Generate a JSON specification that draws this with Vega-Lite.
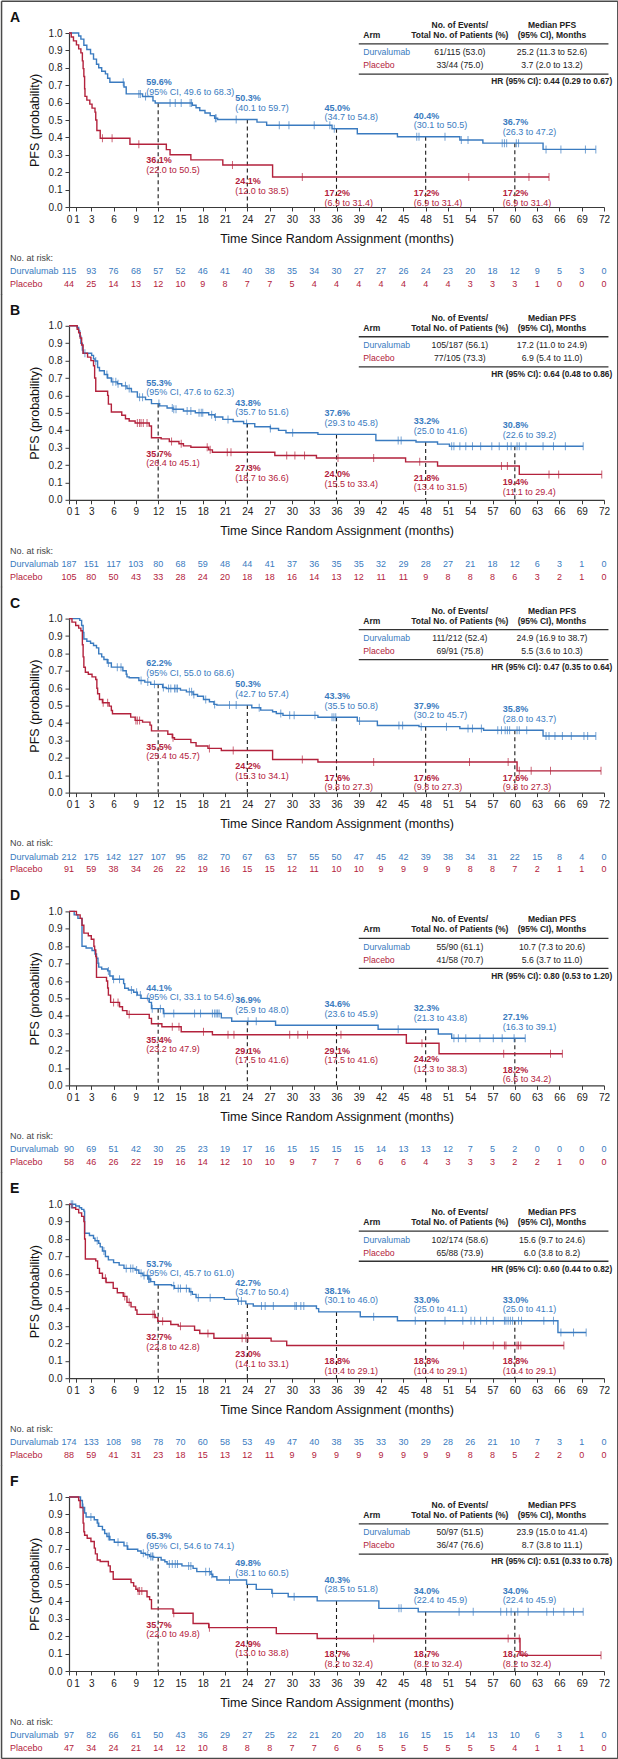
{
"$schema":"https://vega.github.io/schema/vega-lite/v6.json",
"background":"white",
"padding":{"left":0,"top":0,"right":0,"bottom":0},
"config":{
 "font":"Liberation Sans",
 "view":{"stroke":null},
 "axis":{"grid":false,"domainColor":"#3a3a3a","tickColor":"#3a3a3a","labelColor":"#222","titleColor":"#111","titleFontWeight":"normal","labelFontSize":10,"titleFontSize":12.5,"tickSize":4,"domainWidth":1.2,"labelFont":"Liberation Sans","titleFont":"Liberation Sans"},
 "axisX":{"labelFlush":false,"labelOverlap":false,"labelBound":false,"labelPadding":3,"titlePadding":8},
 "axisY":{"labelOverlap":false,"labelPadding":3,"titlePadding":7},
 "text":{"font":"Liberation Sans","fontSize":9,"baseline":"middle"}
},
"data":{"values":[
{"p":"A","k":"t","ev":["61/115 (53.0)","33/44 (75.0)"],"md":["25.2 (11.3 to 52.6)","3.7 (2.0 to 13.2)"],"hr":"HR (95% CI): 0.44 (0.29 to 0.67)"},
{"p":"B","k":"t","ev":["105/187 (56.1)","77/105 (73.3)"],"md":["17.2 (11.0 to 24.9)","6.9 (5.4 to 11.0)"],"hr":"HR (95% CI): 0.64 (0.48 to 0.86)"},
{"p":"C","k":"t","ev":["111/212 (52.4)","69/91 (75.8)"],"md":["24.9 (16.9 to 38.7)","5.5 (3.6 to 10.3)"],"hr":"HR (95% CI): 0.47 (0.35 to 0.64)"},
{"p":"D","k":"t","ev":["55/90 (61.1)","41/58 (70.7)"],"md":["10.7 (7.3 to 20.6)","5.6 (3.7 to 11.0)"],"hr":"HR (95% CI): 0.80 (0.53 to 1.20)"},
{"p":"E","k":"t","ev":["102/174 (58.6)","65/88 (73.9)"],"md":["15.6 (9.7 to 24.6)","6.0 (3.8 to 8.2)"],"hr":"HR (95% CI): 0.60 (0.44 to 0.82)"},
{"p":"F","k":"t","ev":["50/97 (51.5)","36/47 (76.6)"],"md":["23.9 (15.0 to 41.4)","8.7 (3.8 to 11.1)"],"hr":"HR (95% CI): 0.51 (0.33 to 0.78)"},

{"p":"A","k":"l","a":"D","t":12,"s":0.596,"v":"59.6%","c":"(95% CI, 49.6 to 68.3)"},
{"p":"A","k":"l","a":"D","t":24,"s":0.503,"v":"50.3%","c":"(40.1 to 59.7)"},
{"p":"A","k":"l","a":"D","t":36,"s":0.45,"v":"45.0%","c":"(34.7 to 54.8)"},
{"p":"A","k":"l","a":"D","t":48,"s":0.404,"v":"40.4%","c":"(30.1 to 50.5)"},
{"p":"A","k":"l","a":"D","t":60,"s":0.367,"v":"36.7%","c":"(26.3 to 47.2)"},
{"p":"A","k":"l","a":"P","t":12,"s":0.361,"v":"36.1%","c":"(22.0 to 50.5)"},
{"p":"A","k":"l","a":"P","t":24,"s":0.241,"v":"24.1%","c":"(12.0 to 38.5)"},
{"p":"A","k":"l","a":"P","t":36,"s":0.172,"v":"17.2%","c":"(6.9 to 31.4)"},
{"p":"A","k":"l","a":"P","t":48,"s":0.172,"v":"17.2%","c":"(6.9 to 31.4)"},
{"p":"A","k":"l","a":"P","t":60,"s":0.172,"v":"17.2%","c":"(6.9 to 31.4)"},
{"p":"B","k":"l","a":"D","t":12,"s":0.553,"v":"55.3%","c":"(95% CI, 47.6 to 62.3)"},
{"p":"B","k":"l","a":"D","t":24,"s":0.438,"v":"43.8%","c":"(35.7 to 51.6)"},
{"p":"B","k":"l","a":"D","t":36,"s":0.376,"v":"37.6%","c":"(29.3 to 45.8)"},
{"p":"B","k":"l","a":"D","t":48,"s":0.332,"v":"33.2%","c":"(25.0 to 41.6)"},
{"p":"B","k":"l","a":"D","t":60,"s":0.308,"v":"30.8%","c":"(22.6 to 39.2)"},
{"p":"B","k":"l","a":"P","t":12,"s":0.357,"v":"35.7%","c":"(26.4 to 45.1)"},
{"p":"B","k":"l","a":"P","t":24,"s":0.273,"v":"27.3%","c":"(18.7 to 36.6)"},
{"p":"B","k":"l","a":"P","t":36,"s":0.24,"v":"24.0%","c":"(15.5 to 33.4)"},
{"p":"B","k":"l","a":"P","t":48,"s":0.218,"v":"21.8%","c":"(13.4 to 31.5)"},
{"p":"B","k":"l","a":"P","t":60,"s":0.194,"v":"19.4%","c":"(11.1 to 29.4)"},
{"p":"C","k":"l","a":"D","t":12,"s":0.622,"v":"62.2%","c":"(95% CI, 55.0 to 68.6)"},
{"p":"C","k":"l","a":"D","t":24,"s":0.503,"v":"50.3%","c":"(42.7 to 57.4)"},
{"p":"C","k":"l","a":"D","t":36,"s":0.433,"v":"43.3%","c":"(35.5 to 50.8)"},
{"p":"C","k":"l","a":"D","t":48,"s":0.379,"v":"37.9%","c":"(30.2 to 45.7)"},
{"p":"C","k":"l","a":"D","t":60,"s":0.358,"v":"35.8%","c":"(28.0 to 43.7)"},
{"p":"C","k":"l","a":"P","t":12,"s":0.355,"v":"35.5%","c":"(25.4 to 45.7)"},
{"p":"C","k":"l","a":"P","t":24,"s":0.242,"v":"24.2%","c":"(15.3 to 34.1)"},
{"p":"C","k":"l","a":"P","t":36,"s":0.176,"v":"17.6%","c":"(9.8 to 27.3)"},
{"p":"C","k":"l","a":"P","t":48,"s":0.176,"v":"17.6%","c":"(9.8 to 27.3)"},
{"p":"C","k":"l","a":"P","t":60,"s":0.176,"v":"17.6%","c":"(9.8 to 27.3)"},
{"p":"D","k":"l","a":"D","t":12,"s":0.441,"v":"44.1%","c":"(95% CI, 33.1 to 54.6)"},
{"p":"D","k":"l","a":"D","t":24,"s":0.369,"v":"36.9%","c":"(25.9 to 48.0)"},
{"p":"D","k":"l","a":"D","t":36,"s":0.346,"v":"34.6%","c":"(23.6 to 45.9)"},
{"p":"D","k":"l","a":"D","t":48,"s":0.323,"v":"32.3%","c":"(21.3 to 43.8)"},
{"p":"D","k":"l","a":"D","t":60,"s":0.271,"v":"27.1%","c":"(16.3 to 39.1)"},
{"p":"D","k":"l","a":"P","t":12,"s":0.354,"v":"35.4%","c":"(23.2 to 47.9)"},
{"p":"D","k":"l","a":"P","t":24,"s":0.291,"v":"29.1%","c":"(17.5 to 41.6)"},
{"p":"D","k":"l","a":"P","t":36,"s":0.291,"v":"29.1%","c":"(17.5 to 41.6)"},
{"p":"D","k":"l","a":"P","t":48,"s":0.242,"v":"24.2%","c":"(12.3 to 38.3)"},
{"p":"D","k":"l","a":"P","t":60,"s":0.182,"v":"18.2%","c":"(6.6 to 34.2)"},
{"p":"E","k":"l","a":"D","t":12,"s":0.537,"v":"53.7%","c":"(95% CI, 45.7 to 61.0)"},
{"p":"E","k":"l","a":"D","t":24,"s":0.427,"v":"42.7%","c":"(34.7 to 50.4)"},
{"p":"E","k":"l","a":"D","t":36,"s":0.381,"v":"38.1%","c":"(30.1 to 46.0)"},
{"p":"E","k":"l","a":"D","t":48,"s":0.33,"v":"33.0%","c":"(25.0 to 41.1)"},
{"p":"E","k":"l","a":"D","t":60,"s":0.33,"v":"33.0%","c":"(25.0 to 41.1)"},
{"p":"E","k":"l","a":"P","t":12,"s":0.327,"v":"32.7%","c":"(22.8 to 42.8)"},
{"p":"E","k":"l","a":"P","t":24,"s":0.23,"v":"23.0%","c":"(14.1 to 33.1)"},
{"p":"E","k":"l","a":"P","t":36,"s":0.188,"v":"18.8%","c":"(10.4 to 29.1)"},
{"p":"E","k":"l","a":"P","t":48,"s":0.188,"v":"18.8%","c":"(10.4 to 29.1)"},
{"p":"E","k":"l","a":"P","t":60,"s":0.188,"v":"18.8%","c":"(10.4 to 29.1)"},
{"p":"F","k":"l","a":"D","t":12,"s":0.653,"v":"65.3%","c":"(95% CI, 54.6 to 74.1)"},
{"p":"F","k":"l","a":"D","t":24,"s":0.498,"v":"49.8%","c":"(38.1 to 60.5)"},
{"p":"F","k":"l","a":"D","t":36,"s":0.403,"v":"40.3%","c":"(28.5 to 51.8)"},
{"p":"F","k":"l","a":"D","t":48,"s":0.34,"v":"34.0%","c":"(22.4 to 45.9)"},
{"p":"F","k":"l","a":"D","t":60,"s":0.34,"v":"34.0%","c":"(22.4 to 45.9)"},
{"p":"F","k":"l","a":"P","t":12,"s":0.357,"v":"35.7%","c":"(22.0 to 49.8)"},
{"p":"F","k":"l","a":"P","t":24,"s":0.249,"v":"24.9%","c":"(13.0 to 38.8)"},
{"p":"F","k":"l","a":"P","t":36,"s":0.187,"v":"18.7%","c":"(8.2 to 32.4)"},
{"p":"F","k":"l","a":"P","t":48,"s":0.187,"v":"18.7%","c":"(8.2 to 32.4)"},
{"p":"F","k":"l","a":"P","t":60,"s":0.187,"v":"18.7%","c":"(8.2 to 32.4)"},

{"p":"A","k":"r","t":0,"D":115,"P":44},{"p":"A","k":"r","t":3,"D":93,"P":25},{"p":"A","k":"r","t":6,"D":76,"P":14},{"p":"A","k":"r","t":9,"D":68,"P":13},{"p":"A","k":"r","t":12,"D":57,"P":12},{"p":"A","k":"r","t":15,"D":52,"P":10},{"p":"A","k":"r","t":18,"D":46,"P":9},{"p":"A","k":"r","t":21,"D":41,"P":8},{"p":"A","k":"r","t":24,"D":40,"P":7},{"p":"A","k":"r","t":27,"D":38,"P":7},{"p":"A","k":"r","t":30,"D":35,"P":5},{"p":"A","k":"r","t":33,"D":34,"P":4},{"p":"A","k":"r","t":36,"D":30,"P":4},{"p":"A","k":"r","t":39,"D":27,"P":4},{"p":"A","k":"r","t":42,"D":27,"P":4},{"p":"A","k":"r","t":45,"D":26,"P":4},{"p":"A","k":"r","t":48,"D":24,"P":4},{"p":"A","k":"r","t":51,"D":23,"P":4},{"p":"A","k":"r","t":54,"D":20,"P":3},{"p":"A","k":"r","t":57,"D":18,"P":3},{"p":"A","k":"r","t":60,"D":12,"P":3},{"p":"A","k":"r","t":63,"D":9,"P":1},{"p":"A","k":"r","t":66,"D":5,"P":0},{"p":"A","k":"r","t":69,"D":3,"P":0},{"p":"A","k":"r","t":72,"D":0,"P":0},
{"p":"B","k":"r","t":0,"D":187,"P":105},{"p":"B","k":"r","t":3,"D":151,"P":80},{"p":"B","k":"r","t":6,"D":117,"P":50},{"p":"B","k":"r","t":9,"D":103,"P":43},{"p":"B","k":"r","t":12,"D":80,"P":33},{"p":"B","k":"r","t":15,"D":68,"P":28},{"p":"B","k":"r","t":18,"D":59,"P":24},{"p":"B","k":"r","t":21,"D":48,"P":20},{"p":"B","k":"r","t":24,"D":44,"P":18},{"p":"B","k":"r","t":27,"D":41,"P":18},{"p":"B","k":"r","t":30,"D":37,"P":16},{"p":"B","k":"r","t":33,"D":36,"P":14},{"p":"B","k":"r","t":36,"D":35,"P":13},{"p":"B","k":"r","t":39,"D":35,"P":12},{"p":"B","k":"r","t":42,"D":32,"P":11},{"p":"B","k":"r","t":45,"D":29,"P":11},{"p":"B","k":"r","t":48,"D":28,"P":9},{"p":"B","k":"r","t":51,"D":27,"P":8},{"p":"B","k":"r","t":54,"D":21,"P":8},{"p":"B","k":"r","t":57,"D":18,"P":8},{"p":"B","k":"r","t":60,"D":12,"P":6},{"p":"B","k":"r","t":63,"D":6,"P":3},{"p":"B","k":"r","t":66,"D":3,"P":2},{"p":"B","k":"r","t":69,"D":1,"P":1},{"p":"B","k":"r","t":72,"D":0,"P":0},
{"p":"C","k":"r","t":0,"D":212,"P":91},{"p":"C","k":"r","t":3,"D":175,"P":59},{"p":"C","k":"r","t":6,"D":142,"P":38},{"p":"C","k":"r","t":9,"D":127,"P":34},{"p":"C","k":"r","t":12,"D":107,"P":26},{"p":"C","k":"r","t":15,"D":95,"P":22},{"p":"C","k":"r","t":18,"D":82,"P":19},{"p":"C","k":"r","t":21,"D":70,"P":16},{"p":"C","k":"r","t":24,"D":67,"P":15},{"p":"C","k":"r","t":27,"D":63,"P":15},{"p":"C","k":"r","t":30,"D":57,"P":12},{"p":"C","k":"r","t":33,"D":55,"P":11},{"p":"C","k":"r","t":36,"D":50,"P":10},{"p":"C","k":"r","t":39,"D":47,"P":10},{"p":"C","k":"r","t":42,"D":45,"P":9},{"p":"C","k":"r","t":45,"D":42,"P":9},{"p":"C","k":"r","t":48,"D":39,"P":9},{"p":"C","k":"r","t":51,"D":38,"P":9},{"p":"C","k":"r","t":54,"D":34,"P":8},{"p":"C","k":"r","t":57,"D":31,"P":8},{"p":"C","k":"r","t":60,"D":22,"P":7},{"p":"C","k":"r","t":63,"D":15,"P":2},{"p":"C","k":"r","t":66,"D":8,"P":1},{"p":"C","k":"r","t":69,"D":4,"P":1},{"p":"C","k":"r","t":72,"D":0,"P":0},
{"p":"D","k":"r","t":0,"D":90,"P":58},{"p":"D","k":"r","t":3,"D":69,"P":46},{"p":"D","k":"r","t":6,"D":51,"P":26},{"p":"D","k":"r","t":9,"D":42,"P":22},{"p":"D","k":"r","t":12,"D":30,"P":19},{"p":"D","k":"r","t":15,"D":25,"P":16},{"p":"D","k":"r","t":18,"D":23,"P":14},{"p":"D","k":"r","t":21,"D":19,"P":12},{"p":"D","k":"r","t":24,"D":17,"P":10},{"p":"D","k":"r","t":27,"D":16,"P":10},{"p":"D","k":"r","t":30,"D":15,"P":9},{"p":"D","k":"r","t":33,"D":15,"P":7},{"p":"D","k":"r","t":36,"D":15,"P":7},{"p":"D","k":"r","t":39,"D":15,"P":6},{"p":"D","k":"r","t":42,"D":14,"P":6},{"p":"D","k":"r","t":45,"D":13,"P":6},{"p":"D","k":"r","t":48,"D":13,"P":4},{"p":"D","k":"r","t":51,"D":12,"P":3},{"p":"D","k":"r","t":54,"D":7,"P":3},{"p":"D","k":"r","t":57,"D":5,"P":3},{"p":"D","k":"r","t":60,"D":2,"P":2},{"p":"D","k":"r","t":63,"D":0,"P":2},{"p":"D","k":"r","t":66,"D":0,"P":1},{"p":"D","k":"r","t":69,"D":0,"P":0},{"p":"D","k":"r","t":72,"D":0,"P":0},
{"p":"E","k":"r","t":0,"D":174,"P":88},{"p":"E","k":"r","t":3,"D":133,"P":59},{"p":"E","k":"r","t":6,"D":108,"P":41},{"p":"E","k":"r","t":9,"D":98,"P":31},{"p":"E","k":"r","t":12,"D":78,"P":23},{"p":"E","k":"r","t":15,"D":70,"P":18},{"p":"E","k":"r","t":18,"D":60,"P":15},{"p":"E","k":"r","t":21,"D":58,"P":13},{"p":"E","k":"r","t":24,"D":53,"P":12},{"p":"E","k":"r","t":27,"D":49,"P":11},{"p":"E","k":"r","t":30,"D":47,"P":9},{"p":"E","k":"r","t":33,"D":40,"P":9},{"p":"E","k":"r","t":36,"D":38,"P":9},{"p":"E","k":"r","t":39,"D":35,"P":9},{"p":"E","k":"r","t":42,"D":33,"P":9},{"p":"E","k":"r","t":45,"D":30,"P":9},{"p":"E","k":"r","t":48,"D":29,"P":9},{"p":"E","k":"r","t":51,"D":28,"P":9},{"p":"E","k":"r","t":54,"D":26,"P":8},{"p":"E","k":"r","t":57,"D":21,"P":8},{"p":"E","k":"r","t":60,"D":10,"P":5},{"p":"E","k":"r","t":63,"D":7,"P":2},{"p":"E","k":"r","t":66,"D":3,"P":2},{"p":"E","k":"r","t":69,"D":1,"P":0},{"p":"E","k":"r","t":72,"D":0,"P":0},
{"p":"F","k":"r","t":0,"D":97,"P":47},{"p":"F","k":"r","t":3,"D":82,"P":34},{"p":"F","k":"r","t":6,"D":66,"P":24},{"p":"F","k":"r","t":9,"D":61,"P":21},{"p":"F","k":"r","t":12,"D":50,"P":14},{"p":"F","k":"r","t":15,"D":43,"P":12},{"p":"F","k":"r","t":18,"D":36,"P":10},{"p":"F","k":"r","t":21,"D":29,"P":8},{"p":"F","k":"r","t":24,"D":27,"P":8},{"p":"F","k":"r","t":27,"D":25,"P":8},{"p":"F","k":"r","t":30,"D":22,"P":7},{"p":"F","k":"r","t":33,"D":21,"P":7},{"p":"F","k":"r","t":36,"D":20,"P":6},{"p":"F","k":"r","t":39,"D":20,"P":6},{"p":"F","k":"r","t":42,"D":18,"P":5},{"p":"F","k":"r","t":45,"D":16,"P":5},{"p":"F","k":"r","t":48,"D":15,"P":5},{"p":"F","k":"r","t":51,"D":15,"P":5},{"p":"F","k":"r","t":54,"D":14,"P":5},{"p":"F","k":"r","t":57,"D":13,"P":5},{"p":"F","k":"r","t":60,"D":10,"P":4},{"p":"F","k":"r","t":63,"D":6,"P":1},{"p":"F","k":"r","t":66,"D":3,"P":1},{"p":"F","k":"r","t":69,"D":1,"P":1},{"p":"F","k":"r","t":72,"D":0,"P":0},

{"p":"A","k":"c","a":"D","t":0,"s":1},{"p":"A","k":"c","a":"D","t":1.3,"s":0.983},{"p":"A","k":"c","a":"D","t":1.6,"s":0.965},{"p":"A","k":"c","a":"D","t":2,"s":0.93},{"p":"A","k":"c","a":"D","t":2.4,"s":0.905},{"p":"A","k":"c","a":"D","t":2.9,"s":0.88},{"p":"A","k":"c","a":"D","t":3.3,"s":0.85},{"p":"A","k":"c","a":"D","t":3.7,"s":0.82},{"p":"A","k":"c","a":"D","t":4,"s":0.8},{"p":"A","k":"c","a":"D","t":4.4,"s":0.78},{"p":"A","k":"c","a":"D","t":4.9,"s":0.765},{"p":"A","k":"c","a":"D","t":5.2,"s":0.74},{"p":"A","k":"c","a":"D","t":5.5,"s":0.717},{"p":"A","k":"c","a":"D","t":7.4,"s":0.69},{"p":"A","k":"c","a":"D","t":7.7,"s":0.65},{"p":"A","k":"c","a":"D","t":9.9,"s":0.635},{"p":"A","k":"c","a":"D","t":11.3,"s":0.61},{"p":"A","k":"c","a":"D","t":11.6,"s":0.598},{"p":"A","k":"c","a":"D","t":16.6,"s":0.585},{"p":"A","k":"c","a":"D","t":17.1,"s":0.57},{"p":"A","k":"c","a":"D","t":17.6,"s":0.555},{"p":"A","k":"c","a":"D","t":18.3,"s":0.54},{"p":"A","k":"c","a":"D","t":19,"s":0.525},{"p":"A","k":"c","a":"D","t":19.6,"s":0.51},{"p":"A","k":"c","a":"D","t":20,"s":0.503},{"p":"A","k":"c","a":"D","t":25.3,"s":0.488},{"p":"A","k":"c","a":"D","t":26.6,"s":0.47},{"p":"A","k":"c","a":"D","t":35.4,"s":0.45},{"p":"A","k":"c","a":"D","t":38.8,"s":0.421},{"p":"A","k":"c","a":"D","t":44.2,"s":0.404},{"p":"A","k":"c","a":"D","t":52.6,"s":0.385},{"p":"A","k":"c","a":"D","t":55.7,"s":0.367},{"p":"A","k":"c","a":"D","t":63.8,"s":0.331},{"p":"A","k":"c","a":"D","t":70.9,"s":0.331},
{"p":"A","k":"c","a":"P","t":0,"s":1},{"p":"A","k":"c","a":"P","t":0.3,"s":0.977},{"p":"A","k":"c","a":"P","t":0.6,"s":0.955},{"p":"A","k":"c","a":"P","t":1,"s":0.932},{"p":"A","k":"c","a":"P","t":1.3,"s":0.909},{"p":"A","k":"c","a":"P","t":1.6,"s":0.886},{"p":"A","k":"c","a":"P","t":1.8,"s":0.84},{"p":"A","k":"c","a":"P","t":1.9,"s":0.795},{"p":"A","k":"c","a":"P","t":2,"s":0.75},{"p":"A","k":"c","a":"P","t":2.1,"s":0.68},{"p":"A","k":"c","a":"P","t":2.15,"s":0.636},{"p":"A","k":"c","a":"P","t":2.4,"s":0.614},{"p":"A","k":"c","a":"P","t":2.8,"s":0.591},{"p":"A","k":"c","a":"P","t":3.1,"s":0.568},{"p":"A","k":"c","a":"P","t":3.5,"s":0.545},{"p":"A","k":"c","a":"P","t":3.6,"s":0.5},{"p":"A","k":"c","a":"P","t":3.75,"s":0.44},{"p":"A","k":"c","a":"P","t":4.2,"s":0.395},{"p":"A","k":"c","a":"P","t":8.2,"s":0.361},{"p":"A","k":"c","a":"P","t":13.1,"s":0.33},{"p":"A","k":"c","a":"P","t":13.6,"s":0.3},{"p":"A","k":"c","a":"P","t":16.4,"s":0.271},{"p":"A","k":"c","a":"P","t":20.7,"s":0.241},{"p":"A","k":"c","a":"P","t":27.4,"s":0.172},{"p":"A","k":"c","a":"P","t":64.6,"s":0.172},
{"p":"A","k":"x","a":"D","t":7.3,"s":0.717},{"p":"A","k":"x","a":"D","t":9.4,"s":0.65},{"p":"A","k":"x","a":"D","t":9.6,"s":0.65},{"p":"A","k":"x","a":"D","t":10.3,"s":0.635},{"p":"A","k":"x","a":"D","t":13.6,"s":0.598},{"p":"A","k":"x","a":"D","t":14.3,"s":0.598},{"p":"A","k":"x","a":"D","t":15.1,"s":0.598},{"p":"A","k":"x","a":"D","t":16.3,"s":0.598},{"p":"A","k":"x","a":"D","t":16.5,"s":0.598},{"p":"A","k":"x","a":"D","t":19.7,"s":0.51},{"p":"A","k":"x","a":"D","t":19.8,"s":0.51},{"p":"A","k":"x","a":"D","t":22.5,"s":0.503},{"p":"A","k":"x","a":"D","t":28.3,"s":0.47},{"p":"A","k":"x","a":"D","t":29.6,"s":0.47},{"p":"A","k":"x","a":"D","t":33,"s":0.47},{"p":"A","k":"x","a":"D","t":35.1,"s":0.47},{"p":"A","k":"x","a":"D","t":35.7,"s":0.45},{"p":"A","k":"x","a":"D","t":46.8,"s":0.404},{"p":"A","k":"x","a":"D","t":47.1,"s":0.404},{"p":"A","k":"x","a":"D","t":50.6,"s":0.404},{"p":"A","k":"x","a":"D","t":52.8,"s":0.385},{"p":"A","k":"x","a":"D","t":53.7,"s":0.385},{"p":"A","k":"x","a":"D","t":58.3,"s":0.367},{"p":"A","k":"x","a":"D","t":58.6,"s":0.367},{"p":"A","k":"x","a":"D","t":58.9,"s":0.367},{"p":"A","k":"x","a":"D","t":60.2,"s":0.367},{"p":"A","k":"x","a":"D","t":60.5,"s":0.367},{"p":"A","k":"x","a":"D","t":64.2,"s":0.331},{"p":"A","k":"x","a":"D","t":66.2,"s":0.331},{"p":"A","k":"x","a":"D","t":69.5,"s":0.331},{"p":"A","k":"x","a":"D","t":70.9,"s":0.331},
{"p":"A","k":"x","a":"P","t":4.5,"s":0.395},{"p":"A","k":"x","a":"P","t":5.8,"s":0.395},{"p":"A","k":"x","a":"P","t":9.4,"s":0.361},{"p":"A","k":"x","a":"P","t":22,"s":0.241},{"p":"A","k":"x","a":"P","t":31.4,"s":0.172},{"p":"A","k":"x","a":"P","t":53.8,"s":0.172},{"p":"A","k":"x","a":"P","t":61.9,"s":0.172},{"p":"A","k":"x","a":"P","t":64.6,"s":0.172},

{"p":"B","k":"c","a":"D","t":0,"s":1},{"p":"B","k":"c","a":"D","t":1.1,"s":0.99},{"p":"B","k":"c","a":"D","t":1.3,"s":0.97},{"p":"B","k":"c","a":"D","t":1.45,"s":0.94},{"p":"B","k":"c","a":"D","t":1.6,"s":0.9},{"p":"B","k":"c","a":"D","t":1.8,"s":0.86},{"p":"B","k":"c","a":"D","t":1.9,"s":0.842},{"p":"B","k":"c","a":"D","t":3.05,"s":0.83},{"p":"B","k":"c","a":"D","t":3.3,"s":0.81},{"p":"B","k":"c","a":"D","t":3.5,"s":0.798},{"p":"B","k":"c","a":"D","t":3.85,"s":0.76},{"p":"B","k":"c","a":"D","t":4.1,"s":0.742},{"p":"B","k":"c","a":"D","t":4.75,"s":0.72},{"p":"B","k":"c","a":"D","t":5.2,"s":0.7},{"p":"B","k":"c","a":"D","t":5.7,"s":0.678},{"p":"B","k":"c","a":"D","t":6.5,"s":0.667},{"p":"B","k":"c","a":"D","t":7.1,"s":0.655},{"p":"B","k":"c","a":"D","t":7.8,"s":0.64},{"p":"B","k":"c","a":"D","t":8.4,"s":0.62},{"p":"B","k":"c","a":"D","t":9.2,"s":0.59},{"p":"B","k":"c","a":"D","t":10.3,"s":0.576},{"p":"B","k":"c","a":"D","t":11.1,"s":0.553},{"p":"B","k":"c","a":"D","t":12.2,"s":0.54},{"p":"B","k":"c","a":"D","t":13.2,"s":0.528},{"p":"B","k":"c","a":"D","t":14,"s":0.52},{"p":"B","k":"c","a":"D","t":15.4,"s":0.51},{"p":"B","k":"c","a":"D","t":17,"s":0.5},{"p":"B","k":"c","a":"D","t":18.8,"s":0.489},{"p":"B","k":"c","a":"D","t":19.6,"s":0.476},{"p":"B","k":"c","a":"D","t":20.7,"s":0.462},{"p":"B","k":"c","a":"D","t":22.1,"s":0.45},{"p":"B","k":"c","a":"D","t":23.5,"s":0.438},{"p":"B","k":"c","a":"D","t":25,"s":0.42},{"p":"B","k":"c","a":"D","t":27.1,"s":0.41},{"p":"B","k":"c","a":"D","t":28.2,"s":0.399},{"p":"B","k":"c","a":"D","t":29.2,"s":0.385},{"p":"B","k":"c","a":"D","t":33.5,"s":0.376},{"p":"B","k":"c","a":"D","t":41.3,"s":0.341},{"p":"B","k":"c","a":"D","t":46.7,"s":0.332},{"p":"B","k":"c","a":"D","t":49.6,"s":0.32},{"p":"B","k":"c","a":"D","t":51.2,"s":0.308},{"p":"B","k":"c","a":"D","t":69.2,"s":0.308},
{"p":"B","k":"c","a":"P","t":0,"s":1},{"p":"B","k":"c","a":"P","t":1.1,"s":0.98},{"p":"B","k":"c","a":"P","t":1.3,"s":0.96},{"p":"B","k":"c","a":"P","t":1.5,"s":0.93},{"p":"B","k":"c","a":"P","t":1.7,"s":0.89},{"p":"B","k":"c","a":"P","t":1.9,"s":0.842},{"p":"B","k":"c","a":"P","t":2.5,"s":0.82},{"p":"B","k":"c","a":"P","t":2.95,"s":0.8},{"p":"B","k":"c","a":"P","t":3.3,"s":0.77},{"p":"B","k":"c","a":"P","t":3.45,"s":0.7},{"p":"B","k":"c","a":"P","t":3.6,"s":0.624},{"p":"B","k":"c","a":"P","t":5.2,"s":0.6},{"p":"B","k":"c","a":"P","t":5.3,"s":0.55},{"p":"B","k":"c","a":"P","t":5.7,"s":0.505},{"p":"B","k":"c","a":"P","t":7.1,"s":0.486},{"p":"B","k":"c","a":"P","t":7.6,"s":0.466},{"p":"B","k":"c","a":"P","t":8.1,"s":0.453},{"p":"B","k":"c","a":"P","t":8.9,"s":0.441},{"p":"B","k":"c","a":"P","t":10.8,"s":0.424},{"p":"B","k":"c","a":"P","t":11.1,"s":0.357},{"p":"B","k":"c","a":"P","t":12.4,"s":0.35},{"p":"B","k":"c","a":"P","t":13.5,"s":0.335},{"p":"B","k":"c","a":"P","t":14.8,"s":0.322},{"p":"B","k":"c","a":"P","t":15.4,"s":0.31},{"p":"B","k":"c","a":"P","t":16.4,"s":0.302},{"p":"B","k":"c","a":"P","t":18.8,"s":0.287},{"p":"B","k":"c","a":"P","t":19.3,"s":0.273},{"p":"B","k":"c","a":"P","t":27.7,"s":0.255},{"p":"B","k":"c","a":"P","t":33.3,"s":0.24},{"p":"B","k":"c","a":"P","t":45.3,"s":0.218},{"p":"B","k":"c","a":"P","t":49.6,"s":0.194},{"p":"B","k":"c","a":"P","t":60.6,"s":0.146},{"p":"B","k":"c","a":"P","t":71.7,"s":0.146},
{"p":"B","k":"x","a":"D","t":2.14,"s":0.842},{"p":"B","k":"x","a":"D","t":3.6,"s":0.798},{"p":"B","k":"x","a":"D","t":5.1,"s":0.72},{"p":"B","k":"x","a":"D","t":5.9,"s":0.678},{"p":"B","k":"x","a":"D","t":6.3,"s":0.678},{"p":"B","k":"x","a":"D","t":6.6,"s":0.667},{"p":"B","k":"x","a":"D","t":7.6,"s":0.655},{"p":"B","k":"x","a":"D","t":8.1,"s":0.64},{"p":"B","k":"x","a":"D","t":9.5,"s":0.59},{"p":"B","k":"x","a":"D","t":9.9,"s":0.59},{"p":"B","k":"x","a":"D","t":12.1,"s":0.553},{"p":"B","k":"x","a":"D","t":13.9,"s":0.528},{"p":"B","k":"x","a":"D","t":14.1,"s":0.52},{"p":"B","k":"x","a":"D","t":14.4,"s":0.52},{"p":"B","k":"x","a":"D","t":15.9,"s":0.51},{"p":"B","k":"x","a":"D","t":16.4,"s":0.51},{"p":"B","k":"x","a":"D","t":17.5,"s":0.5},{"p":"B","k":"x","a":"D","t":17.8,"s":0.5},{"p":"B","k":"x","a":"D","t":18,"s":0.5},{"p":"B","k":"x","a":"D","t":19.2,"s":0.489},{"p":"B","k":"x","a":"D","t":19.7,"s":0.476},{"p":"B","k":"x","a":"D","t":21.4,"s":0.462},{"p":"B","k":"x","a":"D","t":23.9,"s":0.438},{"p":"B","k":"x","a":"D","t":27.1,"s":0.41},{"p":"B","k":"x","a":"D","t":30.1,"s":0.385},{"p":"B","k":"x","a":"D","t":44.3,"s":0.341},{"p":"B","k":"x","a":"D","t":44.7,"s":0.341},{"p":"B","k":"x","a":"D","t":51.5,"s":0.308},{"p":"B","k":"x","a":"D","t":51.8,"s":0.308},{"p":"B","k":"x","a":"D","t":52.6,"s":0.308},{"p":"B","k":"x","a":"D","t":53.4,"s":0.308},{"p":"B","k":"x","a":"D","t":54.3,"s":0.308},{"p":"B","k":"x","a":"D","t":55.4,"s":0.308},{"p":"B","k":"x","a":"D","t":56.9,"s":0.308},{"p":"B","k":"x","a":"D","t":57.9,"s":0.308},{"p":"B","k":"x","a":"D","t":59,"s":0.308},{"p":"B","k":"x","a":"D","t":59.5,"s":0.308},{"p":"B","k":"x","a":"D","t":60.3,"s":0.308},{"p":"B","k":"x","a":"D","t":60.6,"s":0.308},{"p":"B","k":"x","a":"D","t":61.5,"s":0.308},{"p":"B","k":"x","a":"D","t":63.8,"s":0.308},{"p":"B","k":"x","a":"D","t":65.2,"s":0.308},{"p":"B","k":"x","a":"D","t":66.8,"s":0.308},{"p":"B","k":"x","a":"D","t":69.2,"s":0.308},
{"p":"B","k":"x","a":"P","t":9.2,"s":0.441},{"p":"B","k":"x","a":"P","t":9.5,"s":0.441},{"p":"B","k":"x","a":"P","t":9.7,"s":0.441},{"p":"B","k":"x","a":"P","t":10,"s":0.441},{"p":"B","k":"x","a":"P","t":10.5,"s":0.441},{"p":"B","k":"x","a":"P","t":13.8,"s":0.335},{"p":"B","k":"x","a":"P","t":15.1,"s":0.322},{"p":"B","k":"x","a":"P","t":18.6,"s":0.302},{"p":"B","k":"x","a":"P","t":19,"s":0.287},{"p":"B","k":"x","a":"P","t":21.3,"s":0.273},{"p":"B","k":"x","a":"P","t":21.8,"s":0.273},{"p":"B","k":"x","a":"P","t":29.3,"s":0.255},{"p":"B","k":"x","a":"P","t":30.4,"s":0.255},{"p":"B","k":"x","a":"P","t":31.7,"s":0.255},{"p":"B","k":"x","a":"P","t":36.2,"s":0.24},{"p":"B","k":"x","a":"P","t":41,"s":0.24},{"p":"B","k":"x","a":"P","t":47.2,"s":0.218},{"p":"B","k":"x","a":"P","t":58.2,"s":0.194},{"p":"B","k":"x","a":"P","t":59,"s":0.194},{"p":"B","k":"x","a":"P","t":64.6,"s":0.146},{"p":"B","k":"x","a":"P","t":65.9,"s":0.146},{"p":"B","k":"x","a":"P","t":71.7,"s":0.146},

{"p":"C","k":"c","a":"D","t":0,"s":1},{"p":"C","k":"c","a":"D","t":1.45,"s":0.99},{"p":"C","k":"c","a":"D","t":1.7,"s":0.96},{"p":"C","k":"c","a":"D","t":1.9,"s":0.92},{"p":"C","k":"c","a":"D","t":2,"s":0.883},{"p":"C","k":"c","a":"D","t":2.4,"s":0.87},{"p":"C","k":"c","a":"D","t":2.9,"s":0.858},{"p":"C","k":"c","a":"D","t":3.3,"s":0.845},{"p":"C","k":"c","a":"D","t":3.7,"s":0.832},{"p":"C","k":"c","a":"D","t":4,"s":0.797},{"p":"C","k":"c","a":"D","t":4.4,"s":0.78},{"p":"C","k":"c","a":"D","t":4.7,"s":0.765},{"p":"C","k":"c","a":"D","t":5.15,"s":0.745},{"p":"C","k":"c","a":"D","t":5.7,"s":0.721},{"p":"C","k":"c","a":"D","t":7.25,"s":0.7},{"p":"C","k":"c","a":"D","t":7.7,"s":0.68},{"p":"C","k":"c","a":"D","t":7.8,"s":0.665},{"p":"C","k":"c","a":"D","t":8.1,"s":0.66},{"p":"C","k":"c","a":"D","t":9.4,"s":0.644},{"p":"C","k":"c","a":"D","t":10.2,"s":0.635},{"p":"C","k":"c","a":"D","t":11,"s":0.622},{"p":"C","k":"c","a":"D","t":12.6,"s":0.604},{"p":"C","k":"c","a":"D","t":13.1,"s":0.598},{"p":"C","k":"c","a":"D","t":15,"s":0.589},{"p":"C","k":"c","a":"D","t":15.8,"s":0.579},{"p":"C","k":"c","a":"D","t":16.7,"s":0.564},{"p":"C","k":"c","a":"D","t":17.3,"s":0.554},{"p":"C","k":"c","a":"D","t":18.1,"s":0.535},{"p":"C","k":"c","a":"D","t":18.9,"s":0.522},{"p":"C","k":"c","a":"D","t":19.5,"s":0.507},{"p":"C","k":"c","a":"D","t":19.9,"s":0.503},{"p":"C","k":"c","a":"D","t":24.6,"s":0.488},{"p":"C","k":"c","a":"D","t":25.8,"s":0.474},{"p":"C","k":"c","a":"D","t":27.4,"s":0.465},{"p":"C","k":"c","a":"D","t":27.9,"s":0.455},{"p":"C","k":"c","a":"D","t":28.8,"s":0.444},{"p":"C","k":"c","a":"D","t":33.5,"s":0.433},{"p":"C","k":"c","a":"D","t":38.8,"s":0.411},{"p":"C","k":"c","a":"D","t":41.5,"s":0.386},{"p":"C","k":"c","a":"D","t":47.1,"s":0.379},{"p":"C","k":"c","a":"D","t":52.6,"s":0.368},{"p":"C","k":"c","a":"D","t":55.8,"s":0.358},{"p":"C","k":"c","a":"D","t":63.8,"s":0.325},{"p":"C","k":"c","a":"D","t":70.9,"s":0.325},
{"p":"C","k":"c","a":"P","t":0,"s":1},{"p":"C","k":"c","a":"P","t":0.4,"s":0.98},{"p":"C","k":"c","a":"P","t":0.9,"s":0.96},{"p":"C","k":"c","a":"P","t":1.3,"s":0.945},{"p":"C","k":"c","a":"P","t":1.6,"s":0.93},{"p":"C","k":"c","a":"P","t":1.8,"s":0.85},{"p":"C","k":"c","a":"P","t":1.9,"s":0.78},{"p":"C","k":"c","a":"P","t":2,"s":0.72},{"p":"C","k":"c","a":"P","t":2.2,"s":0.692},{"p":"C","k":"c","a":"P","t":2.6,"s":0.68},{"p":"C","k":"c","a":"P","t":3.1,"s":0.665},{"p":"C","k":"c","a":"P","t":3.6,"s":0.65},{"p":"C","k":"c","a":"P","t":3.75,"s":0.6},{"p":"C","k":"c","a":"P","t":3.85,"s":0.568},{"p":"C","k":"c","a":"P","t":4.1,"s":0.535},{"p":"C","k":"c","a":"P","t":4.5,"s":0.516},{"p":"C","k":"c","a":"P","t":5.4,"s":0.497},{"p":"C","k":"c","a":"P","t":5.7,"s":0.472},{"p":"C","k":"c","a":"P","t":5.85,"s":0.453},{"p":"C","k":"c","a":"P","t":8.3,"s":0.434},{"p":"C","k":"c","a":"P","t":8.9,"s":0.415},{"p":"C","k":"c","a":"P","t":9.9,"s":0.405},{"p":"C","k":"c","a":"P","t":10.9,"s":0.388},{"p":"C","k":"c","a":"P","t":11.1,"s":0.355},{"p":"C","k":"c","a":"P","t":13.3,"s":0.335},{"p":"C","k":"c","a":"P","t":13.9,"s":0.315},{"p":"C","k":"c","a":"P","t":14.2,"s":0.306},{"p":"C","k":"c","a":"P","t":16.4,"s":0.287},{"p":"C","k":"c","a":"P","t":17.1,"s":0.268},{"p":"C","k":"c","a":"P","t":18.7,"s":0.254},{"p":"C","k":"c","a":"P","t":20.5,"s":0.242},{"p":"C","k":"c","a":"P","t":27.4,"s":0.19},{"p":"C","k":"c","a":"P","t":33.5,"s":0.176},{"p":"C","k":"c","a":"P","t":60.3,"s":0.125},{"p":"C","k":"c","a":"P","t":71.6,"s":0.125},
{"p":"C","k":"x","a":"D","t":5.3,"s":0.745},{"p":"C","k":"x","a":"D","t":6.5,"s":0.721},{"p":"C","k":"x","a":"D","t":7,"s":0.721},{"p":"C","k":"x","a":"D","t":9.7,"s":0.644},{"p":"C","k":"x","a":"D","t":10.6,"s":0.635},{"p":"C","k":"x","a":"D","t":11.5,"s":0.622},{"p":"C","k":"x","a":"D","t":12.7,"s":0.604},{"p":"C","k":"x","a":"D","t":13.4,"s":0.598},{"p":"C","k":"x","a":"D","t":13.7,"s":0.598},{"p":"C","k":"x","a":"D","t":14.2,"s":0.598},{"p":"C","k":"x","a":"D","t":14.4,"s":0.598},{"p":"C","k":"x","a":"D","t":14.6,"s":0.598},{"p":"C","k":"x","a":"D","t":16.2,"s":0.579},{"p":"C","k":"x","a":"D","t":16.5,"s":0.579},{"p":"C","k":"x","a":"D","t":16.8,"s":0.564},{"p":"C","k":"x","a":"D","t":18.4,"s":0.535},{"p":"C","k":"x","a":"D","t":19.6,"s":0.507},{"p":"C","k":"x","a":"D","t":21.6,"s":0.503},{"p":"C","k":"x","a":"D","t":22.5,"s":0.503},{"p":"C","k":"x","a":"D","t":25.6,"s":0.488},{"p":"C","k":"x","a":"D","t":28.5,"s":0.455},{"p":"C","k":"x","a":"D","t":29.7,"s":0.444},{"p":"C","k":"x","a":"D","t":30.3,"s":0.444},{"p":"C","k":"x","a":"D","t":33.1,"s":0.444},{"p":"C","k":"x","a":"D","t":35.4,"s":0.433},{"p":"C","k":"x","a":"D","t":35.65,"s":0.433},{"p":"C","k":"x","a":"D","t":35.9,"s":0.433},{"p":"C","k":"x","a":"D","t":39.1,"s":0.411},{"p":"C","k":"x","a":"D","t":44.4,"s":0.386},{"p":"C","k":"x","a":"D","t":44.9,"s":0.386},{"p":"C","k":"x","a":"D","t":47.4,"s":0.379},{"p":"C","k":"x","a":"D","t":50.8,"s":0.379},{"p":"C","k":"x","a":"D","t":53.7,"s":0.368},{"p":"C","k":"x","a":"D","t":54.3,"s":0.368},{"p":"C","k":"x","a":"D","t":55.5,"s":0.368},{"p":"C","k":"x","a":"D","t":57.7,"s":0.358},{"p":"C","k":"x","a":"D","t":58.2,"s":0.358},{"p":"C","k":"x","a":"D","t":58.7,"s":0.358},{"p":"C","k":"x","a":"D","t":59,"s":0.358},{"p":"C","k":"x","a":"D","t":59.3,"s":0.358},{"p":"C","k":"x","a":"D","t":60.3,"s":0.358},{"p":"C","k":"x","a":"D","t":60.6,"s":0.358},{"p":"C","k":"x","a":"D","t":61.6,"s":0.358},{"p":"C","k":"x","a":"D","t":64.2,"s":0.325},{"p":"C","k":"x","a":"D","t":64.6,"s":0.325},{"p":"C","k":"x","a":"D","t":65.4,"s":0.325},{"p":"C","k":"x","a":"D","t":66.4,"s":0.325},{"p":"C","k":"x","a":"D","t":67.6,"s":0.325},{"p":"C","k":"x","a":"D","t":69.3,"s":0.325},{"p":"C","k":"x","a":"D","t":69.8,"s":0.325},{"p":"C","k":"x","a":"D","t":70.9,"s":0.325},
{"p":"C","k":"x","a":"P","t":4.6,"s":0.516},{"p":"C","k":"x","a":"P","t":5.2,"s":0.516},{"p":"C","k":"x","a":"P","t":9,"s":0.415},{"p":"C","k":"x","a":"P","t":9.2,"s":0.415},{"p":"C","k":"x","a":"P","t":9.5,"s":0.415},{"p":"C","k":"x","a":"P","t":14,"s":0.315},{"p":"C","k":"x","a":"P","t":18.9,"s":0.254},{"p":"C","k":"x","a":"P","t":22.1,"s":0.242},{"p":"C","k":"x","a":"P","t":31.4,"s":0.19},{"p":"C","k":"x","a":"P","t":41,"s":0.176},{"p":"C","k":"x","a":"P","t":53.9,"s":0.176},{"p":"C","k":"x","a":"P","t":59.1,"s":0.176},{"p":"C","k":"x","a":"P","t":60.6,"s":0.125},{"p":"C","k":"x","a":"P","t":62.2,"s":0.125},{"p":"C","k":"x","a":"P","t":64.8,"s":0.125},{"p":"C","k":"x","a":"P","t":71.6,"s":0.125},

{"p":"D","k":"c","a":"D","t":0,"s":1},{"p":"D","k":"c","a":"D","t":0.7,"s":0.98},{"p":"D","k":"c","a":"D","t":1.2,"s":0.96},{"p":"D","k":"c","a":"D","t":1.75,"s":0.8},{"p":"D","k":"c","a":"D","t":2.3,"s":0.79},{"p":"D","k":"c","a":"D","t":3.1,"s":0.775},{"p":"D","k":"c","a":"D","t":3.5,"s":0.755},{"p":"D","k":"c","a":"D","t":3.7,"s":0.731},{"p":"D","k":"c","a":"D","t":3.9,"s":0.702},{"p":"D","k":"c","a":"D","t":4,"s":0.68},{"p":"D","k":"c","a":"D","t":4.4,"s":0.669},{"p":"D","k":"c","a":"D","t":5.2,"s":0.658},{"p":"D","k":"c","a":"D","t":5.5,"s":0.629},{"p":"D","k":"c","a":"D","t":5.9,"s":0.61},{"p":"D","k":"c","a":"D","t":7.35,"s":0.585},{"p":"D","k":"c","a":"D","t":7.5,"s":0.558},{"p":"D","k":"c","a":"D","t":8,"s":0.548},{"p":"D","k":"c","a":"D","t":8.7,"s":0.535},{"p":"D","k":"c","a":"D","t":9.2,"s":0.519},{"p":"D","k":"c","a":"D","t":9.7,"s":0.5},{"p":"D","k":"c","a":"D","t":10.8,"s":0.477},{"p":"D","k":"c","a":"D","t":11.1,"s":0.441},{"p":"D","k":"c","a":"D","t":12.7,"s":0.413},{"p":"D","k":"c","a":"D","t":20.5,"s":0.388},{"p":"D","k":"c","a":"D","t":21.9,"s":0.369},{"p":"D","k":"c","a":"D","t":27.8,"s":0.346},{"p":"D","k":"c","a":"D","t":41.6,"s":0.323},{"p":"D","k":"c","a":"D","t":49.7,"s":0.295},{"p":"D","k":"c","a":"D","t":51.5,"s":0.271},{"p":"D","k":"c","a":"D","t":61.4,"s":0.271},
{"p":"D","k":"c","a":"P","t":0,"s":1},{"p":"D","k":"c","a":"P","t":1,"s":0.98},{"p":"D","k":"c","a":"P","t":1.5,"s":0.96},{"p":"D","k":"c","a":"P","t":1.75,"s":0.92},{"p":"D","k":"c","a":"P","t":2,"s":0.875},{"p":"D","k":"c","a":"P","t":2.6,"s":0.86},{"p":"D","k":"c","a":"P","t":3,"s":0.84},{"p":"D","k":"c","a":"P","t":3.35,"s":0.8},{"p":"D","k":"c","a":"P","t":3.45,"s":0.779},{"p":"D","k":"c","a":"P","t":3.6,"s":0.74},{"p":"D","k":"c","a":"P","t":3.7,"s":0.621},{"p":"D","k":"c","a":"P","t":5.05,"s":0.6},{"p":"D","k":"c","a":"P","t":5.2,"s":0.56},{"p":"D","k":"c","a":"P","t":5.3,"s":0.519},{"p":"D","k":"c","a":"P","t":5.6,"s":0.477},{"p":"D","k":"c","a":"P","t":6.8,"s":0.452},{"p":"D","k":"c","a":"P","t":7.2,"s":0.43},{"p":"D","k":"c","a":"P","t":7.8,"s":0.408},{"p":"D","k":"c","a":"P","t":10.8,"s":0.385},{"p":"D","k":"c","a":"P","t":11.1,"s":0.354},{"p":"D","k":"c","a":"P","t":12.5,"s":0.337},{"p":"D","k":"c","a":"P","t":15.1,"s":0.308},{"p":"D","k":"c","a":"P","t":19.3,"s":0.291},{"p":"D","k":"c","a":"P","t":45.4,"s":0.242},{"p":"D","k":"c","a":"P","t":49.8,"s":0.182},{"p":"D","k":"c","a":"P","t":66.4,"s":0.182},
{"p":"D","k":"x","a":"D","t":5.3,"s":0.658},{"p":"D","k":"x","a":"D","t":6,"s":0.61},{"p":"D","k":"x","a":"D","t":6.8,"s":0.61},{"p":"D","k":"x","a":"D","t":8.4,"s":0.548},{"p":"D","k":"x","a":"D","t":9.1,"s":0.535},{"p":"D","k":"x","a":"D","t":9.6,"s":0.519},{"p":"D","k":"x","a":"D","t":11.2,"s":0.441},{"p":"D","k":"x","a":"D","t":12.3,"s":0.441},{"p":"D","k":"x","a":"D","t":12.8,"s":0.413},{"p":"D","k":"x","a":"D","t":14.1,"s":0.413},{"p":"D","k":"x","a":"D","t":16.9,"s":0.413},{"p":"D","k":"x","a":"D","t":17.7,"s":0.413},{"p":"D","k":"x","a":"D","t":19.3,"s":0.413},{"p":"D","k":"x","a":"D","t":19.6,"s":0.413},{"p":"D","k":"x","a":"D","t":19.8,"s":0.413},{"p":"D","k":"x","a":"D","t":20,"s":0.413},{"p":"D","k":"x","a":"D","t":20.2,"s":0.413},{"p":"D","k":"x","a":"D","t":24.1,"s":0.369},{"p":"D","k":"x","a":"D","t":25.2,"s":0.369},{"p":"D","k":"x","a":"D","t":44.3,"s":0.323},{"p":"D","k":"x","a":"D","t":51.8,"s":0.271},{"p":"D","k":"x","a":"D","t":52.4,"s":0.271},{"p":"D","k":"x","a":"D","t":53.4,"s":0.271},{"p":"D","k":"x","a":"D","t":55.3,"s":0.271},{"p":"D","k":"x","a":"D","t":57.1,"s":0.271},{"p":"D","k":"x","a":"D","t":58.3,"s":0.271},{"p":"D","k":"x","a":"D","t":59.9,"s":0.271},{"p":"D","k":"x","a":"D","t":61.4,"s":0.271},
{"p":"D","k":"x","a":"P","t":6,"s":0.477},{"p":"D","k":"x","a":"P","t":6.6,"s":0.477},{"p":"D","k":"x","a":"P","t":8.1,"s":0.408},{"p":"D","k":"x","a":"P","t":13.9,"s":0.337},{"p":"D","k":"x","a":"P","t":14.8,"s":0.337},{"p":"D","k":"x","a":"P","t":18.1,"s":0.308},{"p":"D","k":"x","a":"P","t":21.4,"s":0.291},{"p":"D","k":"x","a":"P","t":22.2,"s":0.291},{"p":"D","k":"x","a":"P","t":29.7,"s":0.291},{"p":"D","k":"x","a":"P","t":30.8,"s":0.291},{"p":"D","k":"x","a":"P","t":32.1,"s":0.291},{"p":"D","k":"x","a":"P","t":36.6,"s":0.291},{"p":"D","k":"x","a":"P","t":47.5,"s":0.242},{"p":"D","k":"x","a":"P","t":58.5,"s":0.182},{"p":"D","k":"x","a":"P","t":64.8,"s":0.182},{"p":"D","k":"x","a":"P","t":66.4,"s":0.182},

{"p":"E","k":"c","a":"D","t":0,"s":1},{"p":"E","k":"c","a":"D","t":0.9,"s":0.99},{"p":"E","k":"c","a":"D","t":1.4,"s":0.98},{"p":"E","k":"c","a":"D","t":1.7,"s":0.97},{"p":"E","k":"c","a":"D","t":2,"s":0.96},{"p":"E","k":"c","a":"D","t":2.1,"s":0.833},{"p":"E","k":"c","a":"D","t":2.75,"s":0.82},{"p":"E","k":"c","a":"D","t":3.3,"s":0.804},{"p":"E","k":"c","a":"D","t":3.5,"s":0.79},{"p":"E","k":"c","a":"D","t":4,"s":0.775},{"p":"E","k":"c","a":"D","t":4.2,"s":0.755},{"p":"E","k":"c","a":"D","t":4.5,"s":0.731},{"p":"E","k":"c","a":"D","t":4.9,"s":0.699},{"p":"E","k":"c","a":"D","t":5.3,"s":0.68},{"p":"E","k":"c","a":"D","t":6,"s":0.664},{"p":"E","k":"c","a":"D","t":6.75,"s":0.65},{"p":"E","k":"c","a":"D","t":7.4,"s":0.631},{"p":"E","k":"c","a":"D","t":8.9,"s":0.622},{"p":"E","k":"c","a":"D","t":9.4,"s":0.603},{"p":"E","k":"c","a":"D","t":9.95,"s":0.59},{"p":"E","k":"c","a":"D","t":10.6,"s":0.57},{"p":"E","k":"c","a":"D","t":11,"s":0.555},{"p":"E","k":"c","a":"D","t":11.5,"s":0.537},{"p":"E","k":"c","a":"D","t":13.8,"s":0.532},{"p":"E","k":"c","a":"D","t":14.2,"s":0.516},{"p":"E","k":"c","a":"D","t":16.2,"s":0.497},{"p":"E","k":"c","a":"D","t":16.6,"s":0.482},{"p":"E","k":"c","a":"D","t":17.1,"s":0.463},{"p":"E","k":"c","a":"D","t":20.9,"s":0.453},{"p":"E","k":"c","a":"D","t":22.7,"s":0.443},{"p":"E","k":"c","a":"D","t":23.8,"s":0.427},{"p":"E","k":"c","a":"D","t":24.8,"s":0.415},{"p":"E","k":"c","a":"D","t":33.3,"s":0.4},{"p":"E","k":"c","a":"D","t":33.6,"s":0.381},{"p":"E","k":"c","a":"D","t":39.2,"s":0.353},{"p":"E","k":"c","a":"D","t":44.2,"s":0.33},{"p":"E","k":"c","a":"D","t":65.8,"s":0.263},{"p":"E","k":"c","a":"D","t":69.6,"s":0.263},
{"p":"E","k":"c","a":"P","t":0,"s":1},{"p":"E","k":"c","a":"P","t":0.4,"s":0.98},{"p":"E","k":"c","a":"P","t":0.9,"s":0.97},{"p":"E","k":"c","a":"P","t":1.3,"s":0.95},{"p":"E","k":"c","a":"P","t":1.7,"s":0.93},{"p":"E","k":"c","a":"P","t":2,"s":0.9},{"p":"E","k":"c","a":"P","t":2.1,"s":0.8},{"p":"E","k":"c","a":"P","t":2.2,"s":0.685},{"p":"E","k":"c","a":"P","t":3.6,"s":0.674},{"p":"E","k":"c","a":"P","t":3.85,"s":0.631},{"p":"E","k":"c","a":"P","t":4.1,"s":0.603},{"p":"E","k":"c","a":"P","t":4.5,"s":0.574},{"p":"E","k":"c","a":"P","t":5,"s":0.55},{"p":"E","k":"c","a":"P","t":5.95,"s":0.516},{"p":"E","k":"c","a":"P","t":6.5,"s":0.491},{"p":"E","k":"c","a":"P","t":7.3,"s":0.47},{"p":"E","k":"c","a":"P","t":7.8,"s":0.436},{"p":"E","k":"c","a":"P","t":8.35,"s":0.41},{"p":"E","k":"c","a":"P","t":8.95,"s":0.392},{"p":"E","k":"c","a":"P","t":9.15,"s":0.367},{"p":"E","k":"c","a":"P","t":11.6,"s":0.349},{"p":"E","k":"c","a":"P","t":11.95,"s":0.327},{"p":"E","k":"c","a":"P","t":13.7,"s":0.309},{"p":"E","k":"c","a":"P","t":14.7,"s":0.299},{"p":"E","k":"c","a":"P","t":16.9,"s":0.276},{"p":"E","k":"c","a":"P","t":17.6,"s":0.257},{"p":"E","k":"c","a":"P","t":19.5,"s":0.23},{"p":"E","k":"c","a":"P","t":27.2,"s":0.213},{"p":"E","k":"c","a":"P","t":29.3,"s":0.188},{"p":"E","k":"c","a":"P","t":66.6,"s":0.188},
{"p":"E","k":"x","a":"D","t":0.3,"s":1},{"p":"E","k":"x","a":"D","t":0.5,"s":1},{"p":"E","k":"x","a":"D","t":3.8,"s":0.79},{"p":"E","k":"x","a":"D","t":4.7,"s":0.731},{"p":"E","k":"x","a":"D","t":7.7,"s":0.631},{"p":"E","k":"x","a":"D","t":8.3,"s":0.631},{"p":"E","k":"x","a":"D","t":8.6,"s":0.631},{"p":"E","k":"x","a":"D","t":9.1,"s":0.622},{"p":"E","k":"x","a":"D","t":9.7,"s":0.603},{"p":"E","k":"x","a":"D","t":10.1,"s":0.59},{"p":"E","k":"x","a":"D","t":10.7,"s":0.57},{"p":"E","k":"x","a":"D","t":10.8,"s":0.57},{"p":"E","k":"x","a":"D","t":10.9,"s":0.57},{"p":"E","k":"x","a":"D","t":14.1,"s":0.532},{"p":"E","k":"x","a":"D","t":14.7,"s":0.516},{"p":"E","k":"x","a":"D","t":15,"s":0.516},{"p":"E","k":"x","a":"D","t":15.8,"s":0.516},{"p":"E","k":"x","a":"D","t":16.4,"s":0.497},{"p":"E","k":"x","a":"D","t":17.4,"s":0.463},{"p":"E","k":"x","a":"D","t":19,"s":0.463},{"p":"E","k":"x","a":"D","t":22.8,"s":0.443},{"p":"E","k":"x","a":"D","t":23.2,"s":0.443},{"p":"E","k":"x","a":"D","t":25.9,"s":0.415},{"p":"E","k":"x","a":"D","t":26.4,"s":0.415},{"p":"E","k":"x","a":"D","t":27.5,"s":0.415},{"p":"E","k":"x","a":"D","t":30.4,"s":0.415},{"p":"E","k":"x","a":"D","t":30.6,"s":0.415},{"p":"E","k":"x","a":"D","t":31.2,"s":0.415},{"p":"E","k":"x","a":"D","t":31.6,"s":0.415},{"p":"E","k":"x","a":"D","t":41,"s":0.353},{"p":"E","k":"x","a":"D","t":46.6,"s":0.33},{"p":"E","k":"x","a":"D","t":50.6,"s":0.33},{"p":"E","k":"x","a":"D","t":53,"s":0.33},{"p":"E","k":"x","a":"D","t":54.1,"s":0.33},{"p":"E","k":"x","a":"D","t":54.6,"s":0.33},{"p":"E","k":"x","a":"D","t":55.4,"s":0.33},{"p":"E","k":"x","a":"D","t":56.2,"s":0.33},{"p":"E","k":"x","a":"D","t":57.1,"s":0.33},{"p":"E","k":"x","a":"D","t":58.6,"s":0.33},{"p":"E","k":"x","a":"D","t":58.8,"s":0.33},{"p":"E","k":"x","a":"D","t":59.1,"s":0.33},{"p":"E","k":"x","a":"D","t":59.4,"s":0.33},{"p":"E","k":"x","a":"D","t":59.7,"s":0.33},{"p":"E","k":"x","a":"D","t":60.5,"s":0.33},{"p":"E","k":"x","a":"D","t":60.9,"s":0.33},{"p":"E","k":"x","a":"D","t":63.9,"s":0.33},{"p":"E","k":"x","a":"D","t":65.2,"s":0.33},{"p":"E","k":"x","a":"D","t":66.2,"s":0.263},{"p":"E","k":"x","a":"D","t":67.9,"s":0.263},{"p":"E","k":"x","a":"D","t":69.6,"s":0.263},
{"p":"E","k":"x","a":"P","t":4.9,"s":0.574},{"p":"E","k":"x","a":"P","t":7.5,"s":0.47},{"p":"E","k":"x","a":"P","t":8.1,"s":0.436},{"p":"E","k":"x","a":"P","t":11.3,"s":0.367},{"p":"E","k":"x","a":"P","t":11.5,"s":0.367},{"p":"E","k":"x","a":"P","t":12.6,"s":0.327},{"p":"E","k":"x","a":"P","t":15,"s":0.299},{"p":"E","k":"x","a":"P","t":18.7,"s":0.257},{"p":"E","k":"x","a":"P","t":23.3,"s":0.23},{"p":"E","k":"x","a":"P","t":23.8,"s":0.23},{"p":"E","k":"x","a":"P","t":24.1,"s":0.23},{"p":"E","k":"x","a":"P","t":53.1,"s":0.188},{"p":"E","k":"x","a":"P","t":57.1,"s":0.188},{"p":"E","k":"x","a":"P","t":58.6,"s":0.188},{"p":"E","k":"x","a":"P","t":58.8,"s":0.188},{"p":"E","k":"x","a":"P","t":60.3,"s":0.188},{"p":"E","k":"x","a":"P","t":60.5,"s":0.188},{"p":"E","k":"x","a":"P","t":60.8,"s":0.188},{"p":"E","k":"x","a":"P","t":66.6,"s":0.188},

{"p":"F","k":"c","a":"D","t":0,"s":1},{"p":"F","k":"c","a":"D","t":1.55,"s":0.98},{"p":"F","k":"c","a":"D","t":1.8,"s":0.94},{"p":"F","k":"c","a":"D","t":2.1,"s":0.908},{"p":"F","k":"c","a":"D","t":2.3,"s":0.885},{"p":"F","k":"c","a":"D","t":3.4,"s":0.869},{"p":"F","k":"c","a":"D","t":3.8,"s":0.85},{"p":"F","k":"c","a":"D","t":4,"s":0.831},{"p":"F","k":"c","a":"D","t":4.5,"s":0.812},{"p":"F","k":"c","a":"D","t":4.8,"s":0.79},{"p":"F","k":"c","a":"D","t":5.1,"s":0.773},{"p":"F","k":"c","a":"D","t":5.5,"s":0.754},{"p":"F","k":"c","a":"D","t":6.1,"s":0.74},{"p":"F","k":"c","a":"D","t":7.4,"s":0.719},{"p":"F","k":"c","a":"D","t":7.9,"s":0.7},{"p":"F","k":"c","a":"D","t":9.25,"s":0.69},{"p":"F","k":"c","a":"D","t":9.7,"s":0.677},{"p":"F","k":"c","a":"D","t":10.3,"s":0.668},{"p":"F","k":"c","a":"D","t":10.85,"s":0.658},{"p":"F","k":"c","a":"D","t":11.4,"s":0.653},{"p":"F","k":"c","a":"D","t":12.4,"s":0.638},{"p":"F","k":"c","a":"D","t":12.9,"s":0.628},{"p":"F","k":"c","a":"D","t":13.2,"s":0.615},{"p":"F","k":"c","a":"D","t":15.2,"s":0.604},{"p":"F","k":"c","a":"D","t":16.7,"s":0.59},{"p":"F","k":"c","a":"D","t":17.2,"s":0.571},{"p":"F","k":"c","a":"D","t":19.1,"s":0.556},{"p":"F","k":"c","a":"D","t":19.35,"s":0.542},{"p":"F","k":"c","a":"D","t":19.9,"s":0.523},{"p":"F","k":"c","a":"D","t":23.9,"s":0.498},{"p":"F","k":"c","a":"D","t":25.2,"s":0.469},{"p":"F","k":"c","a":"D","t":27.3,"s":0.446},{"p":"F","k":"c","a":"D","t":29.5,"s":0.427},{"p":"F","k":"c","a":"D","t":33.4,"s":0.403},{"p":"F","k":"c","a":"D","t":41.7,"s":0.36},{"p":"F","k":"c","a":"D","t":47,"s":0.34},{"p":"F","k":"c","a":"D","t":69.2,"s":0.34},
{"p":"F","k":"c","a":"P","t":0,"s":1},{"p":"F","k":"c","a":"P","t":1.3,"s":0.98},{"p":"F","k":"c","a":"P","t":1.5,"s":0.94},{"p":"F","k":"c","a":"P","t":1.9,"s":0.85},{"p":"F","k":"c","a":"P","t":2,"s":0.8},{"p":"F","k":"c","a":"P","t":2.1,"s":0.78},{"p":"F","k":"c","a":"P","t":2.45,"s":0.763},{"p":"F","k":"c","a":"P","t":2.95,"s":0.744},{"p":"F","k":"c","a":"P","t":3.4,"s":0.706},{"p":"F","k":"c","a":"P","t":3.55,"s":0.673},{"p":"F","k":"c","a":"P","t":3.8,"s":0.638},{"p":"F","k":"c","a":"P","t":4.2,"s":0.629},{"p":"F","k":"c","a":"P","t":5.3,"s":0.604},{"p":"F","k":"c","a":"P","t":5.55,"s":0.57},{"p":"F","k":"c","a":"P","t":5.95,"s":0.527},{"p":"F","k":"c","a":"P","t":8.35,"s":0.508},{"p":"F","k":"c","a":"P","t":8.7,"s":0.488},{"p":"F","k":"c","a":"P","t":9,"s":0.47},{"p":"F","k":"c","a":"P","t":9.25,"s":0.46},{"p":"F","k":"c","a":"P","t":10.5,"s":0.427},{"p":"F","k":"c","a":"P","t":10.85,"s":0.41},{"p":"F","k":"c","a":"P","t":11.1,"s":0.357},{"p":"F","k":"c","a":"P","t":14,"s":0.332},{"p":"F","k":"c","a":"P","t":16.7,"s":0.273},{"p":"F","k":"c","a":"P","t":18.8,"s":0.249},{"p":"F","k":"c","a":"P","t":27.9,"s":0.215},{"p":"F","k":"c","a":"P","t":33.4,"s":0.187},{"p":"F","k":"c","a":"P","t":60.7,"s":0.09},{"p":"F","k":"c","a":"P","t":71.6,"s":0.09},
{"p":"F","k":"x","a":"D","t":1.9,"s":0.94},{"p":"F","k":"x","a":"D","t":2.95,"s":0.885},{"p":"F","k":"x","a":"D","t":3.9,"s":0.85},{"p":"F","k":"x","a":"D","t":5.3,"s":0.773},{"p":"F","k":"x","a":"D","t":5.45,"s":0.773},{"p":"F","k":"x","a":"D","t":6.6,"s":0.74},{"p":"F","k":"x","a":"D","t":7.8,"s":0.719},{"p":"F","k":"x","a":"D","t":10,"s":0.677},{"p":"F","k":"x","a":"D","t":10.6,"s":0.668},{"p":"F","k":"x","a":"D","t":11,"s":0.658},{"p":"F","k":"x","a":"D","t":11.2,"s":0.658},{"p":"F","k":"x","a":"D","t":11.3,"s":0.658},{"p":"F","k":"x","a":"D","t":13.5,"s":0.615},{"p":"F","k":"x","a":"D","t":13.9,"s":0.615},{"p":"F","k":"x","a":"D","t":14.3,"s":0.615},{"p":"F","k":"x","a":"D","t":14.6,"s":0.615},{"p":"F","k":"x","a":"D","t":16.1,"s":0.604},{"p":"F","k":"x","a":"D","t":16.4,"s":0.604},{"p":"F","k":"x","a":"D","t":18.4,"s":0.571},{"p":"F","k":"x","a":"D","t":18.9,"s":0.571},{"p":"F","k":"x","a":"D","t":19.2,"s":0.556},{"p":"F","k":"x","a":"D","t":21.6,"s":0.523},{"p":"F","k":"x","a":"D","t":27.4,"s":0.446},{"p":"F","k":"x","a":"D","t":30.3,"s":0.427},{"p":"F","k":"x","a":"D","t":44.4,"s":0.36},{"p":"F","k":"x","a":"D","t":44.7,"s":0.36},{"p":"F","k":"x","a":"D","t":52.5,"s":0.34},{"p":"F","k":"x","a":"D","t":54.4,"s":0.34},{"p":"F","k":"x","a":"D","t":58.1,"s":0.34},{"p":"F","k":"x","a":"D","t":58.9,"s":0.34},{"p":"F","k":"x","a":"D","t":59.5,"s":0.34},{"p":"F","k":"x","a":"D","t":60.4,"s":0.34},{"p":"F","k":"x","a":"D","t":61.8,"s":0.34},{"p":"F","k":"x","a":"D","t":64.3,"s":0.34},{"p":"F","k":"x","a":"D","t":65.2,"s":0.34},{"p":"F","k":"x","a":"D","t":66.6,"s":0.34},{"p":"F","k":"x","a":"D","t":67.9,"s":0.34},{"p":"F","k":"x","a":"D","t":69.2,"s":0.34},
{"p":"F","k":"x","a":"P","t":9.3,"s":0.46},{"p":"F","k":"x","a":"P","t":9.5,"s":0.46},{"p":"F","k":"x","a":"P","t":9.8,"s":0.46},{"p":"F","k":"x","a":"P","t":14.1,"s":0.332},{"p":"F","k":"x","a":"P","t":18.9,"s":0.249},{"p":"F","k":"x","a":"P","t":41,"s":0.187},{"p":"F","k":"x","a":"P","t":59.1,"s":0.187},{"p":"F","k":"x","a":"P","t":60.6,"s":0.187},{"p":"F","k":"x","a":"P","t":71.6,"s":0.09}
]},
"facet":{"row":{"field":"p","type":"nominal","header":null}},
"spacing":{"row":118.8},
"bounds":"flush",
"resolve":{"axis":{"x":"independent"}},
"spec":{
 "width":535,"height":174,
 "layer":[
  {"transform":[{"filter":"datum.k=='l'&&datum.a=='D'"}],
   "mark":{"type":"rule","strokeDash":[4,3],"color":"#1a1a1a","strokeWidth":1.1},
   "encoding":{
    "x":{"field":"t","type":"quantitative","scale":{"domain":[0,72],"nice":false},"axis":{"title":"Time Since Random Assignment (months)","values":[0,1,3,6,9,12,15,18,21,24,27,30,33,36,39,42,45,48,51,54,57,60,63,66,69,72],"tickCount":100,"labelOverlap":false,"labelFlush":false,"labelBound":false}},
    "y":{"field":"s","type":"quantitative","scale":{"domain":[0,1],"nice":false},"axis":{"title":"PFS (probability)","values":[0,0.1,0.2,0.3,0.4,0.5,0.6,0.7,0.8,0.9,1],"tickCount":100,"format":".1f","labelOverlap":false,"labelFlush":false,"labelBound":false}},
    "y2":{"datum":0}}},
  {"transform":[{"filter":"datum.k=='c'"}],
   "mark":{"type":"line","interpolate":"step-after","strokeWidth":1.4},
   "encoding":{"x":{"field":"t","type":"quantitative"},"y":{"field":"s","type":"quantitative"},
    "color":{"field":"a","type":"nominal","scale":{"domain":["D","P"],"range":["#3a7bc0","#b3223c"]},"legend":null}}},
  {"transform":[{"filter":"datum.k=='x'"}],
   "mark":{"type":"tick","orient":"vertical","size":8,"thickness":1},
   "encoding":{"x":{"field":"t","type":"quantitative"},"y":{"field":"s","type":"quantitative"},"color":{"field":"a","type":"nominal","legend":null}}},
  {"transform":[{"filter":"datum.k=='l'"}],
   "encoding":{"x":{"field":"t","type":"quantitative"},"y":{"field":"s","type":"quantitative"},"color":{"field":"a","type":"nominal","legend":null}},
   "layer":[
    {"transform":[{"filter":"datum.a=='D'"}],"mark":{"type":"text","align":"left","dx":-12,"dy":-21,"fontWeight":"bold"},"encoding":{"text":{"field":"v"}}},
    {"transform":[{"filter":"datum.a=='D'"}],"mark":{"type":"text","align":"left","dx":-12,"dy":-11.5},"encoding":{"text":{"field":"c"}}},
    {"transform":[{"filter":"datum.a=='P'"}],"mark":{"type":"text","align":"left","dx":-12,"dy":16,"fontWeight":"bold"},"encoding":{"text":{"field":"v"}}},
    {"transform":[{"filter":"datum.a=='P'"}],"mark":{"type":"text","align":"left","dx":-12,"dy":25.5},"encoding":{"text":{"field":"c"}}}
   ]},
  {"transform":[{"filter":"datum.k=='r'"},{"fold":["D","P"],"as":["a","n"]}],
   "encoding":{"x":{"field":"t","type":"quantitative"},"y":{"datum":0},"text":{"field":"n","type":"nominal"},"color":{"field":"a","type":"nominal","legend":null}},
   "layer":[
    {"transform":[{"filter":"datum.a=='D'"}],"mark":{"type":"text","dy":64}},
    {"transform":[{"filter":"datum.a=='P'"}],"mark":{"type":"text","dy":76.7}}
   ]},
  {"transform":[{"filter":"datum.k=='t'"}],
   "layer":[
    {"mark":{"type":"text","align":"left","fontSize":14,"fontWeight":"bold","dy":-15,"color":"#111"},"encoding":{"x":{"datum":-7.95},"y":{"datum":1},"text":{"field":"p"}}},
    {"mark":{"type":"text","align":"left","dy":50.7,"color":"#444","text":"No. at risk:"},"encoding":{"x":{"datum":-7.95},"y":{"datum":0}}},
    {"mark":{"type":"text","align":"left","dy":64,"color":"#3a7bc0","text":"Durvalumab"},"encoding":{"x":{"datum":-7.95},"y":{"datum":0}}},
    {"mark":{"type":"text","align":"left","dy":76.7,"color":"#b3223c","text":"Placebo"},"encoding":{"x":{"datum":-7.95},"y":{"datum":0}}},
    {"mark":{"type":"rule","color":"#4a4a4a","strokeWidth":1.5},"encoding":{"x":{"datum":-9.078},"y":{"datum":1.1825},"y2":{"datum":-0.503}}},
    {"mark":{"type":"rule","color":"#4a4a4a","strokeWidth":1.5},"encoding":{"x":{"datum":73.86},"y":{"datum":1.1825},"y2":{"datum":-0.503}}},
    {"transform":[{"filter":"datum.p=='A'"}],"mark":{"type":"rule","color":"#4a4a4a","strokeWidth":1.5},"encoding":{"x":{"datum":-9.078},"x2":{"datum":73.86},"y":{"datum":1.1825}}},
    {"transform":[{"filter":"datum.p=='F'"}],"mark":{"type":"rule","color":"#4a4a4a","strokeWidth":1.5},"encoding":{"x":{"datum":-9.078},"x2":{"datum":73.86},"y":{"datum":-0.503}}}
   ]},
  {"transform":[{"filter":"datum.k=='t'&&(datum.p=='A'||datum.p=='B'||datum.p=='C')"}],
   "layer":[
    {"mark":{"type":"text","align":"left","fontSize":8.5,"fontWeight":"bold","dy":2,"color":"#222","text":"Arm"},"encoding":{"x":{"datum":39.6},"y":{"datum":1}}},
    {"mark":{"type":"text","align":"center","fontSize":8.5,"fontWeight":"bold","lineHeight":10,"dy":-8,"color":"#222","text":["No. of Events/","Total No. of Patients (%)"]},"encoding":{"x":{"datum":52.6},"y":{"datum":1}}},
    {"mark":{"type":"text","align":"center","fontSize":8.5,"fontWeight":"bold","lineHeight":10,"dy":-8,"color":"#222","text":["Median PFS","(95% CI), Months"]},"encoding":{"x":{"datum":65.0},"y":{"datum":1}}},
    {"mark":{"type":"rule","color":"#333","strokeWidth":1.3},"encoding":{"x":{"datum":39},"x2":{"datum":72.6},"y":{"datum":0.937}}},
    {"mark":{"type":"text","align":"left","fontSize":8.7,"dy":19.4,"color":"#3a7bc0","text":"Durvalumab"},"encoding":{"x":{"datum":39.6},"y":{"datum":1}}},
    {"mark":{"type":"text","align":"left","fontSize":8.7,"dy":32.4,"color":"#b3223c","text":"Placebo"},"encoding":{"x":{"datum":39.6},"y":{"datum":1}}},
    {"mark":{"type":"text","align":"center","fontSize":8.7,"lineHeight":13,"dy":19.4,"color":"#222"},"encoding":{"x":{"datum":52.6},"y":{"datum":1},"text":{"field":"ev"}}},
    {"mark":{"type":"text","align":"center","fontSize":8.7,"lineHeight":13,"dy":19.4,"color":"#222"},"encoding":{"x":{"datum":65.0},"y":{"datum":1},"text":{"field":"md"}}},
    {"mark":{"type":"rule","color":"#333","strokeWidth":1.3},"encoding":{"x":{"datum":39},"x2":{"datum":72.6},"y":{"datum":0.764}}},
    {"mark":{"type":"text","align":"right","fontSize":8.3,"fontWeight":"bold","dy":49.4,"color":"#222"},"encoding":{"x":{"datum":73.1},"y":{"datum":1},"text":{"field":"hr"}}}
   ]},
  {"transform":[{"filter":"datum.k=='t'&&(datum.p=='D'||datum.p=='E'||datum.p=='F')"}],
   "layer":[
    {"mark":{"type":"text","align":"left","fontSize":8.5,"fontWeight":"bold","dy":18,"color":"#222","text":"Arm"},"encoding":{"x":{"datum":39.6},"y":{"datum":1}}},
    {"mark":{"type":"text","align":"center","fontSize":8.5,"fontWeight":"bold","lineHeight":10,"dy":8,"color":"#222","text":["No. of Events/","Total No. of Patients (%)"]},"encoding":{"x":{"datum":52.6},"y":{"datum":1}}},
    {"mark":{"type":"text","align":"center","fontSize":8.5,"fontWeight":"bold","lineHeight":10,"dy":8,"color":"#222","text":["Median PFS","(95% CI), Months"]},"encoding":{"x":{"datum":65.0},"y":{"datum":1}}},
    {"mark":{"type":"rule","color":"#333","strokeWidth":1.3},"encoding":{"x":{"datum":39},"x2":{"datum":72.6},"y":{"datum":0.845}}},
    {"mark":{"type":"text","align":"left","fontSize":8.7,"dy":35.4,"color":"#3a7bc0","text":"Durvalumab"},"encoding":{"x":{"datum":39.6},"y":{"datum":1}}},
    {"mark":{"type":"text","align":"left","fontSize":8.7,"dy":48.4,"color":"#b3223c","text":"Placebo"},"encoding":{"x":{"datum":39.6},"y":{"datum":1}}},
    {"mark":{"type":"text","align":"center","fontSize":8.7,"lineHeight":13,"dy":35.4,"color":"#222"},"encoding":{"x":{"datum":52.6},"y":{"datum":1},"text":{"field":"ev"}}},
    {"mark":{"type":"text","align":"center","fontSize":8.7,"lineHeight":13,"dy":35.4,"color":"#222"},"encoding":{"x":{"datum":65.0},"y":{"datum":1},"text":{"field":"md"}}},
    {"mark":{"type":"rule","color":"#333","strokeWidth":1.3},"encoding":{"x":{"datum":39},"x2":{"datum":72.6},"y":{"datum":0.672}}},
    {"mark":{"type":"text","align":"right","fontSize":8.3,"fontWeight":"bold","dy":65.4,"color":"#222"},"encoding":{"x":{"datum":73.1},"y":{"datum":1},"text":{"field":"hr"}}}
   ]}
 ]}
}
